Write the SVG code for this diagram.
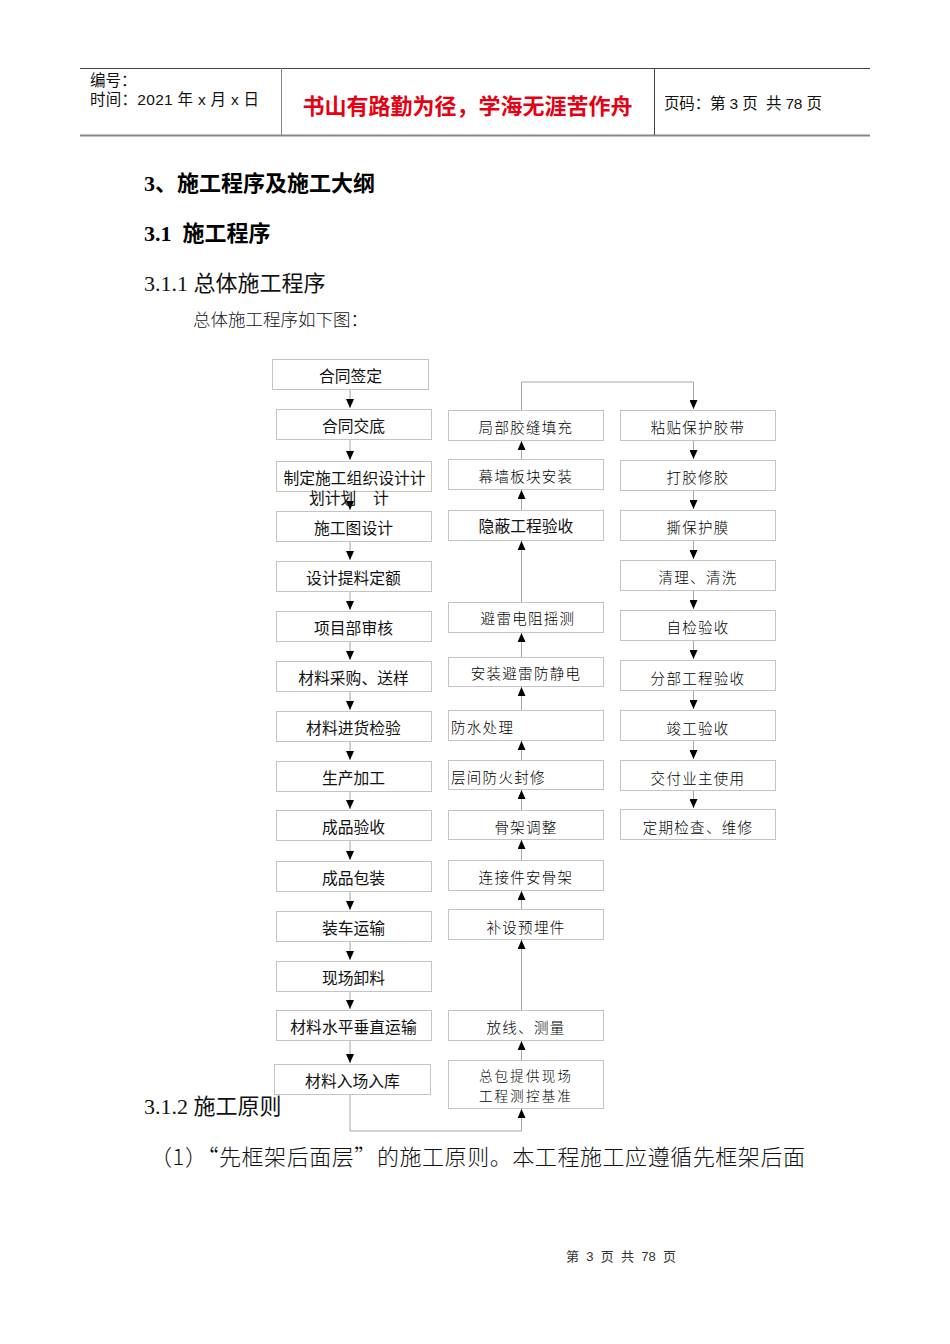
<svg xmlns="http://www.w3.org/2000/svg" width="950" height="1344" viewBox="0 0 950 1344">
<style>
.box{fill:#fff;stroke:#c4c4c4;stroke-width:1}
.lt{font-family:"Liberation Sans","Noto Sans CJK SC",sans-serif;font-size:15.8px;fill:#111;text-anchor:middle;dominant-baseline:central}
.st{font-family:"Noto Sans CJK SC",sans-serif;font-size:14.5px;letter-spacing:1.3px;font-weight:300;fill:#000;text-anchor:middle;dominant-baseline:central}
.st2{font-size:13.5px;letter-spacing:2.2px}
.sl{text-anchor:start}
.con{fill:none;stroke:#a6a6a6;stroke-width:1}
.hd{font-family:"Liberation Sans","Noto Sans CJK SC",sans-serif;font-size:15.5px;fill:#111}
.h1{font-family:"Liberation Serif","Noto Sans CJK SC",serif;font-size:22px;font-weight:bold;fill:#000}
.h3{font-family:"Liberation Serif","Noto Sans CJK SC",serif;font-size:22px;fill:#111}
</style>
<defs>
<marker id="ah" markerWidth="9" markerHeight="8" refX="9" refY="4" orient="auto" markerUnits="userSpaceOnUse" viewBox="0 0 9 8">
<path d="M0,0 L9,4 L0,8 z" fill="#000"/>
</marker>
</defs>
<rect width="950" height="1344" fill="#fff"/>

<!-- page header -->
<g id="header">
<line x1="80" y1="68.5" x2="870" y2="68.5" stroke="#444" stroke-width="1"/>
<line x1="80" y1="135.5" x2="870" y2="135.5" stroke="#888" stroke-width="2"/>
<line x1="281.5" y1="68" x2="281.5" y2="135" stroke="#888" stroke-width="1"/>
<line x1="654.5" y1="68" x2="654.5" y2="135" stroke="#444" stroke-width="1"/>
<text class="hd" x="90" y="86">编号：</text>
<text class="hd" x="90" y="105" textLength="169" lengthAdjust="spacing">时间：2021 年 x 月 x 日</text>
<text x="467.5" y="104" font-family="'Noto Sans CJK SC',sans-serif" font-size="22" font-weight="bold" fill="#e60012" text-anchor="middle" dominant-baseline="central">书山有路勤为径，学海无涯苦作舟</text>
<text class="hd" x="664" y="109" xml:space="preserve" textLength="158" lengthAdjust="spacing">页码：第 3 页  共 78 页</text>
</g>

<!-- headings -->
<g id="headings">
<text class="h1" x="144" y="191">3、施工程序及施工大纲</text>
<text class="h1" x="144" y="241" xml:space="preserve">3.1  施工程序</text>
<text class="h3" x="144" y="291">3.1.1 总体施工程序</text>
<text x="193" y="326" font-family="'Noto Sans CJK SC',sans-serif" font-size="17.5" font-weight="300" fill="#111">总体施工程序如下图：</text>
<text class="h3" x="144" y="1114">3.1.2 施工原则</text>
<text x="150" y="1165" font-family="'Noto Sans CJK SC',sans-serif" font-size="22" font-weight="300" fill="#111" textLength="655" lengthAdjust="spacing">（1）“先框架后面层”的施工原则。本工程施工应遵循先框架后面</text>
</g>

<!-- connectors -->
<g id="connectors">
<line class="con" x1="350" y1="389" x2="350" y2="408" marker-end="url(#ah)"/>
<line class="con" x1="350" y1="439" x2="350" y2="460" marker-end="url(#ah)"/>
<line class="con" x1="350" y1="491" x2="350" y2="510" marker-end="url(#ah)"/>
<line class="con" x1="350" y1="541" x2="350" y2="560" marker-end="url(#ah)"/>
<line class="con" x1="350" y1="591" x2="350" y2="610" marker-end="url(#ah)"/>
<line class="con" x1="350" y1="641" x2="350" y2="660" marker-end="url(#ah)"/>
<line class="con" x1="350" y1="691" x2="350" y2="710" marker-end="url(#ah)"/>
<line class="con" x1="350" y1="741" x2="350" y2="760" marker-end="url(#ah)"/>
<line class="con" x1="350" y1="791" x2="350" y2="809" marker-end="url(#ah)"/>
<line class="con" x1="350" y1="840" x2="350" y2="860" marker-end="url(#ah)"/>
<line class="con" x1="350" y1="891" x2="350" y2="910" marker-end="url(#ah)"/>
<line class="con" x1="350" y1="941" x2="350" y2="960" marker-end="url(#ah)"/>
<line class="con" x1="350" y1="991" x2="350" y2="1009" marker-end="url(#ah)"/>
<line class="con" x1="350" y1="1040" x2="350" y2="1063" marker-end="url(#ah)"/>
<path class="con" d="M350,1094 V1131 H521.5 V1109" marker-end="url(#ah)"/>
<line class="con" x1="521.5" y1="1060" x2="521.5" y2="1041" marker-end="url(#ah)"/>
<line class="con" x1="521.5" y1="1010" x2="521.5" y2="940" marker-end="url(#ah)"/>
<line class="con" x1="521.5" y1="909" x2="521.5" y2="891" marker-end="url(#ah)"/>
<line class="con" x1="521.5" y1="860" x2="521.5" y2="840" marker-end="url(#ah)"/>
<line class="con" x1="521.5" y1="810" x2="521.5" y2="790" marker-end="url(#ah)"/>
<line class="con" x1="521.5" y1="760" x2="521.5" y2="741" marker-end="url(#ah)"/>
<line class="con" x1="521.5" y1="710" x2="521.5" y2="687" marker-end="url(#ah)"/>
<line class="con" x1="521.5" y1="657" x2="521.5" y2="633" marker-end="url(#ah)"/>
<line class="con" x1="521.5" y1="602" x2="521.5" y2="541" marker-end="url(#ah)"/>
<line class="con" x1="521.5" y1="510" x2="521.5" y2="490" marker-end="url(#ah)"/>
<line class="con" x1="521.5" y1="459" x2="521.5" y2="441" marker-end="url(#ah)"/>
<path class="con" d="M521.5,410 V382 H693.5 V409" marker-end="url(#ah)"/>
<line class="con" x1="693.5" y1="440" x2="693.5" y2="459" marker-end="url(#ah)"/>
<line class="con" x1="693.5" y1="490" x2="693.5" y2="509" marker-end="url(#ah)"/>
<line class="con" x1="693.5" y1="540" x2="693.5" y2="559" marker-end="url(#ah)"/>
<line class="con" x1="693.5" y1="590" x2="693.5" y2="609" marker-end="url(#ah)"/>
<line class="con" x1="693.5" y1="640" x2="693.5" y2="659" marker-end="url(#ah)"/>
<line class="con" x1="693.5" y1="690" x2="693.5" y2="709" marker-end="url(#ah)"/>
<line class="con" x1="693.5" y1="740" x2="693.5" y2="759" marker-end="url(#ah)"/>
<line class="con" x1="693.5" y1="790" x2="693.5" y2="808" marker-end="url(#ah)"/>
</g>

<!-- left column nodes -->
<g id="n1"><rect class="box" x="272.5" y="359.5" width="156" height="30"/><text class="lt" x="350.5" y="376">合同签定</text></g>
<g id="n2"><rect class="box" x="276.5" y="409.5" width="155" height="30"/><text class="lt" x="353.5" y="426">合同交底</text></g>
<g id="n3"><rect class="box" x="276.5" y="461.5" width="155" height="30"/><text class="lt" x="354.5" y="478">制定施工组织设计计</text><text class="lt" x="309" y="498" style="text-anchor:start">划计划<tspan x="373">计</tspan></text></g>
<g id="n4"><rect class="box" x="276.5" y="511.5" width="155" height="30"/><text class="lt" x="353.5" y="528">施工图设计</text></g>
<g id="n5"><rect class="box" x="276.5" y="561.5" width="155" height="30"/><text class="lt" x="353.5" y="578">设计提料定额</text></g>
<g id="n6"><rect class="box" x="276.5" y="611.5" width="155" height="30"/><text class="lt" x="353.5" y="628">项目部审核</text></g>
<g id="n7"><rect class="box" x="276.5" y="661.5" width="155" height="30"/><text class="lt" x="353.5" y="678">材料采购、送样</text></g>
<g id="n8"><rect class="box" x="276.5" y="711.5" width="155" height="30"/><text class="lt" x="353.5" y="728">材料进货检验</text></g>
<g id="n9"><rect class="box" x="276.5" y="761.5" width="155" height="30"/><text class="lt" x="353.5" y="778">生产加工</text></g>
<g id="n10"><rect class="box" x="276.5" y="810.5" width="155" height="30"/><text class="lt" x="353.5" y="827">成品验收</text></g>
<g id="n11"><rect class="box" x="276.5" y="861.5" width="155" height="30"/><text class="lt" x="353.5" y="878">成品包装</text></g>
<g id="n12"><rect class="box" x="276.5" y="911.5" width="155" height="30"/><text class="lt" x="353.5" y="928">装车运输</text></g>
<g id="n13"><rect class="box" x="276.5" y="961.5" width="155" height="30"/><text class="lt" x="353.5" y="978">现场卸料</text></g>
<g id="n14"><rect class="box" x="276.5" y="1010.5" width="155" height="30"/><text class="lt" x="353.5" y="1027">材料水平垂直运输</text></g>
<g id="n15"><rect class="box" x="274.5" y="1064.5" width="156" height="30"/><text class="lt" x="352.5" y="1081">材料入场入库</text></g>

<!-- middle column nodes -->
<g id="m1"><rect class="box" x="448.5" y="410.5" width="155" height="30"/><text class="st" x="526" y="426">局部胶缝填充</text></g>
<g id="m2"><rect class="box" x="448.5" y="459.5" width="155" height="30"/><text class="st" x="526" y="475">幕墙板块安装</text></g>
<g id="m3"><rect class="box" x="448.5" y="510.5" width="155" height="30"/><text class="lt" x="526" y="526">隐蔽工程验收</text></g>
<g id="m4"><rect class="box" x="448.5" y="602.5" width="155" height="30"/><text class="st" x="528" y="617">避雷电阻摇测</text></g>
<g id="m5"><rect class="box" x="448.5" y="657.5" width="155" height="29"/><text class="st" x="526" y="672">安装避雷防静电</text></g>
<g id="m6"><rect class="box" x="448.5" y="710.5" width="155" height="30"/><text class="st sl" x="451" y="726">防水处理</text></g>
<g id="m7"><rect class="box" x="448.5" y="760.5" width="155" height="29"/><text class="st sl" x="451" y="776">层间防火封修</text></g>
<g id="m8"><rect class="box" x="448.5" y="810.5" width="155" height="29"/><text class="st" x="526" y="826">骨架调整</text></g>
<g id="m9"><rect class="box" x="448.5" y="860.5" width="155" height="30"/><text class="st" x="526" y="876">连接件安骨架</text></g>
<g id="m10"><rect class="box" x="448.5" y="909.5" width="155" height="30"/><text class="st" x="526" y="926">补设预埋件</text></g>
<g id="m11"><rect class="box" x="448.5" y="1010.5" width="155" height="30"/><text class="st" x="526" y="1026">放线、测量</text></g>
<g id="m12"><rect class="box" x="448.5" y="1060.5" width="155" height="48"/><text class="st st2" x="526" y="1075">总包提供现场</text><text class="st st2" x="526" y="1095">工程测控基准</text></g>

<!-- right column nodes -->
<g id="r1"><rect class="box" x="620.5" y="410.5" width="155" height="30"/><text class="st" x="698" y="426">粘贴保护胶带</text></g>
<g id="r2"><rect class="box" x="620.5" y="460.5" width="155" height="30"/><text class="st" x="698" y="476">打胶修胶</text></g>
<g id="r3"><rect class="box" x="620.5" y="510.5" width="155" height="30"/><text class="st" x="698" y="526">撕保护膜</text></g>
<g id="r4"><rect class="box" x="620.5" y="560.5" width="155" height="30"/><text class="st" x="698" y="576">清理、清洗</text></g>
<g id="r5"><rect class="box" x="620.5" y="610.5" width="155" height="30"/><text class="st" x="698" y="626">自检验收</text></g>
<g id="r6"><rect class="box" x="620.5" y="660.5" width="155" height="30"/><text class="st" x="698" y="677">分部工程验收</text></g>
<g id="r7"><rect class="box" x="620.5" y="710.5" width="155" height="30"/><text class="st" x="698" y="727">竣工验收</text></g>
<g id="r8"><rect class="box" x="620.5" y="760.5" width="155" height="30"/><text class="st" x="698" y="777">交付业主使用</text></g>
<g id="r9"><rect class="box" x="620.5" y="809.5" width="155" height="30"/><text class="st" x="698" y="826">定期检查、维修</text></g>

<!-- footer -->
<g id="footer">
<text x="621" y="1261" font-family="'Liberation Sans','Noto Sans CJK SC',sans-serif" font-size="13" fill="#333" text-anchor="middle" xml:space="preserve">第  3  页  共  78  页</text>
</g>
</svg>
